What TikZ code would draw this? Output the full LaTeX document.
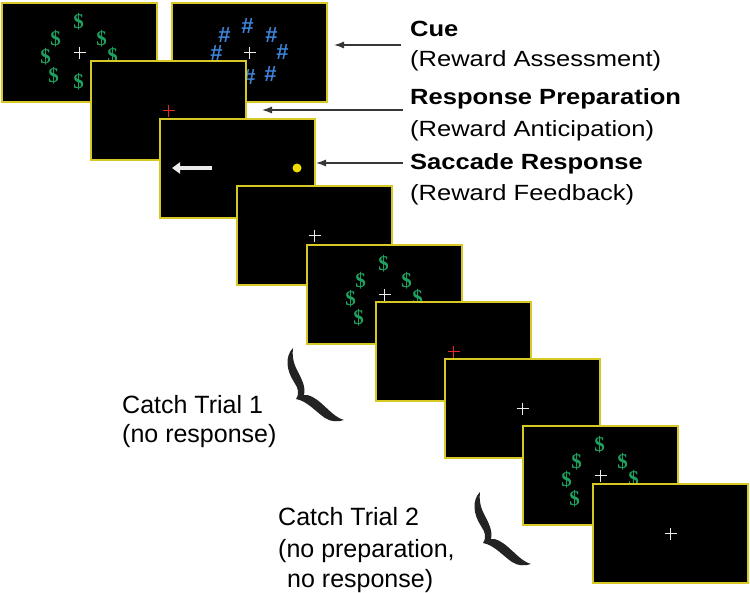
\documentclass[tikz,border=0pt]{standalone}
\usepackage{fontspec}
\setmainfont{Liberation Sans}
\newfontfamily\lblfont[FakeStretch=1.16]{Liberation Sans}
\newfontfamily\catchfont{Liberation Sans}
\newfontfamily\dolfont{Liberation Serif}
\usetikzlibrary{arrows.meta}
\definecolor{scrYel}{RGB}{215,200,35}
\definecolor{dolGreen}{RGB}{30,160,95}
\definecolor{hashBlue}{RGB}{60,130,215}
\definecolor{fixRed}{RGB}{235,40,35}
\definecolor{fixWhite}{RGB}{235,235,235}
\definecolor{dotYel}{RGB}{240,220,0}
\definecolor{arrGray}{RGB}{55,55,55}
\definecolor{braceGray}{RGB}{35,35,35}
\tikzset{
  screen/.style={draw=scrYel, fill=black, line width=1.4pt, minimum width=155pt,
    minimum height=99pt, anchor=north west, inner sep=0pt, outer sep=0pt},
  dollar/.style={text=dolGreen, font=\dolfont\bfseries\fontsize{21}{21}\selectfont, inner sep=0pt},
  hash/.style={text=hashBlue, font=\catchfont\bfseries\fontsize{22}{22}\selectfont, inner sep=0pt},
  lblhead/.style={anchor=base west, inner sep=0pt, font=\lblfont\bfseries\fontsize{22}{26}\selectfont},
  lblsub/.style={anchor=base west, inner sep=0pt, font=\lblfont\fontsize{22}{26}\selectfont},
  catchtxt/.style={anchor=base west, inner sep=0pt, font=\catchfont\fontsize{25}{30}\selectfont},
  arr/.style={draw=arrGray, line width=1.2pt, -{Latex[length=10pt,width=7pt]}},
  pics/fix/.style={code={\draw[line width=1.6pt,#1] (-6,0)--(6,0) (0,-6)--(0,6);}},
  pics/swash/.style={code={\fill[braceGray] (0,0) .. controls (-8,8) and (-7,22) .. (1,34)
     .. controls (5,40) and (7,45) .. (3,51) .. controls (14,53) and (22,63) .. (32,70)
     .. controls (38,74) and (45,74) .. (51,72) .. controls (43,70) and (36,62) .. (28,55)
     .. controls (22,50) and (16,46) .. (11,47) .. controls (13,38) and (8,30) .. (4,22)
     .. controls (0,14) and (-1,7) .. (0,0) -- cycle;}}
}
\newcommand{\dollarring}[1]{%
  \foreach \dx/\dy [count=\k] in {-1/-31,-24/-14,22/-14,-34/4,33/3,-26/23,-1/29,22/23}
    \node[dollar] (d#1\k) at ([shift={(\dx,\dy)}]scr#1.center) {\$};}
\begin{document}
\begin{tikzpicture}[x=1pt,y=-1pt]
\useasboundingbox (0,0) rectangle (750,592);
% screen A: dollar cue
\node[screen] (scrA) at (2,3) {};
\dollarring{A}
\pic at (scrA.center) {fix=fixWhite};
% screen B: hash cue
\node[screen] (scrB) at (172,3) {};
\foreach \dx/\dy [count=\k] in {-2/-26,-25/-17,22/-17,-33/1,33/0,21/22,0/25,-25/22}
  \node[hash] (hB\k) at ([shift={(\dx,\dy)}]scrB.center) {\#};
\pic at (scrB.center) {fix=fixWhite};
% screen C: red fixation
\node[screen] (scrC) at (91,61) {};
\pic at (scrC.center) {fix=fixRed};
% screen D: saccade
\node[screen] (scrD) at (160,119) {};
\coordinate (sacS) at (212,168);
\coordinate (sacE) at (172,168);
\draw[fixWhite, line width=3.2pt, -{Triangle[length=8pt,width=11pt]}] (sacS) -- (sacE);
\fill[dotYel] (297,168) circle (4.5);
% screen E
\node[screen] (scrE) at (237,186) {};
\pic at (scrE.center) {fix=fixWhite};
% screen F
\node[screen] (scrF) at (307,245) {};
\dollarring{F}
\pic at (scrF.center) {fix=fixWhite};
% screen G
\node[screen] (scrG) at (376,302) {};
\pic at (scrG.center) {fix=fixRed};
% screen H
\node[screen] (scrH) at (445,359) {};
\pic at (scrH.center) {fix=fixWhite};
% screen I
\node[screen] (scrI) at (523,426) {};
\dollarring{I}
\pic at (scrI.center) {fix=fixWhite};
% screen J
\node[screen] (scrJ) at (593,484) {};
\pic at (scrJ.center) {fix=fixWhite};
% labels
\node[lblhead] (tCue) at (410,36) {Cue};
\node[lblsub] (tCueS) at (410,66) {(Reward Assessment)};
\node[lblhead] (tPrep) at (410,104) {Response Preparation};
\node[lblsub] (tPrepS) at (410,136) {(Reward Anticipation)};
\node[lblhead] (tSac) at (410,169) {Saccade Response};
\node[lblsub] (tSacS) at (410,200) {(Reward Feedback)};
% arrows
\coordinate (aCueS) at (401,45);   \coordinate (aCueE) at (334,45);
\coordinate (aPrepS) at (403,110); \coordinate (aPrepE) at (262,110);
\coordinate (aSacS) at (403,163);  \coordinate (aSacE) at (316,163);
\draw[arr] (aCueS) -- (aCueE);
\draw[arr] (aPrepS) -- (aPrepE);
\draw[arr] (aSacS) -- (aSacE);
% catch trials
\pic at (293,348) {swash};
\pic at (480,492) {swash};
\node[catchtxt] (c1a) at (122,413) {Catch Trial 1};
\node[catchtxt] (c1b) at (122,442) {(no response)};
\node[catchtxt] (c2a) at (278,525) {Catch Trial 2};
\node[catchtxt] (c2b) at (278,557) {(no preparation,};
\node[catchtxt] (c2c) at (287,587) {no response)};
\end{tikzpicture}
\end{document}
